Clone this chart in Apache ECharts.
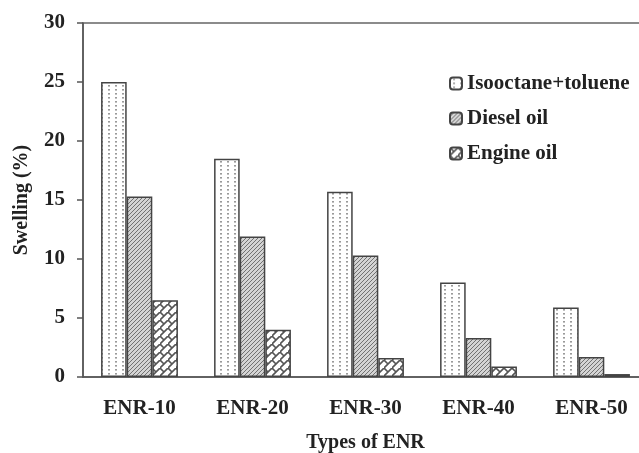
<!DOCTYPE html>
<html><head><meta charset="utf-8">
<script src="https://cdn.jsdelivr.net/npm/echarts@6/dist/echarts.min.js"></script>
<style>html,body{margin:0;padding:0;background:#fff}#c{width:639px;height:453px}</style>
</head><body><div id="c"></div>
<script>
var categories = ['ENR-10','ENR-20','ENR-30','ENR-40','ENR-50'];
var isooctane = [25.0, 18.5, 15.7, 8.0, 5.9];
var diesel = [15.3, 11.9, 10.3, 3.3, 1.7];
var engine = [6.5, 4.0, 1.6, 0.9, 0.25];
var seriesNames = ['Isooctane+toluene','Diesel oil','Engine oil'];
var yTicks = [0,5,10,15,20,25,30];

function mk(w,h,draw){var c=document.createElement('canvas');c.width=w;c.height=h;var g=c.getContext('2d');draw(g);return {image:c,repeat:'repeat'};}
var dots = mk(7,4,function(g){g.fillStyle='#fff';g.fillRect(0,0,7,4);g.fillStyle='#9a9a9a';g.fillRect(3,1,2,1.6);});
var hatch = mk(4,4,function(g){g.fillStyle='#d4d4d4';g.fillRect(0,0,4,4);g.strokeStyle='#666';g.lineWidth=0.9;g.beginPath();g.moveTo(-1,5);g.lineTo(5,-1);g.moveTo(-1,1);g.lineTo(1,-1);g.moveTo(3,5);g.lineTo(5,3);g.stroke();});
var brick = mk(8,8,function(g){g.fillStyle='#fff';g.fillRect(0,0,8,8);g.strokeStyle='#555';g.lineWidth=1.6;g.beginPath();g.moveTo(-1,9);g.lineTo(9,-1);g.moveTo(0,0);g.lineTo(4,4);g.stroke();});
var fills=[dots,hatch,brick];
var font='"Liberation Serif", "DejaVu Serif", serif';
var data=[isooctane,diesel,engine];
var chart=echarts.init(document.getElementById('c'));
chart.setOption({
  animation:false,
  backgroundColor:'#fff',
  grid:{left:83,top:23,height:354,width:565,outerBoundsMode:'none',containLabel:false,show:true,borderColor:'#666',borderWidth:1.5,backgroundColor:'transparent'},
  legend:{orient:'vertical',left:449,top:73,padding:0,itemWidth:12,itemHeight:12,itemGap:14,
    data:seriesNames,
    textStyle:{fontFamily:font,fontWeight:'bold',fontSize:21,color:'#222'}},
  xAxis:{type:'category',data:categories,
    axisLine:{lineStyle:{color:'#555',width:1.5}},axisTick:{show:false},
    axisLabel:{fontFamily:font,fontWeight:'bold',fontSize:21,color:'#222',margin:21},
    name:'Types of ENR',nameLocation:'middle',nameGap:56,
    nameTextStyle:{fontFamily:font,fontWeight:'bold',fontSize:20,color:'#222'}},
  yAxis:{type:'value',min:0,max:30,interval:5,
    axisLine:{show:true,lineStyle:{color:'#555',width:1.5}},
    axisTick:{show:true,length:6,lineStyle:{color:'#555',width:1.5}},
    splitLine:{show:false},
    axisLabel:{fontFamily:font,fontWeight:'bold',fontSize:21,color:'#222',margin:18},
    name:'Swelling (%)',nameLocation:'middle',nameGap:51,
    nameTextStyle:{fontFamily:font,fontWeight:'bold',fontSize:20,color:'#222'}},
  series:data.map(function(d,i){return {name:seriesNames[i],type:'bar',data:d,
    barGap:'0%',barCategoryGap:'32%',
    itemStyle:{color:fills[i],borderColor:'#444',borderWidth:1.5}};})
});
</script></body></html>
